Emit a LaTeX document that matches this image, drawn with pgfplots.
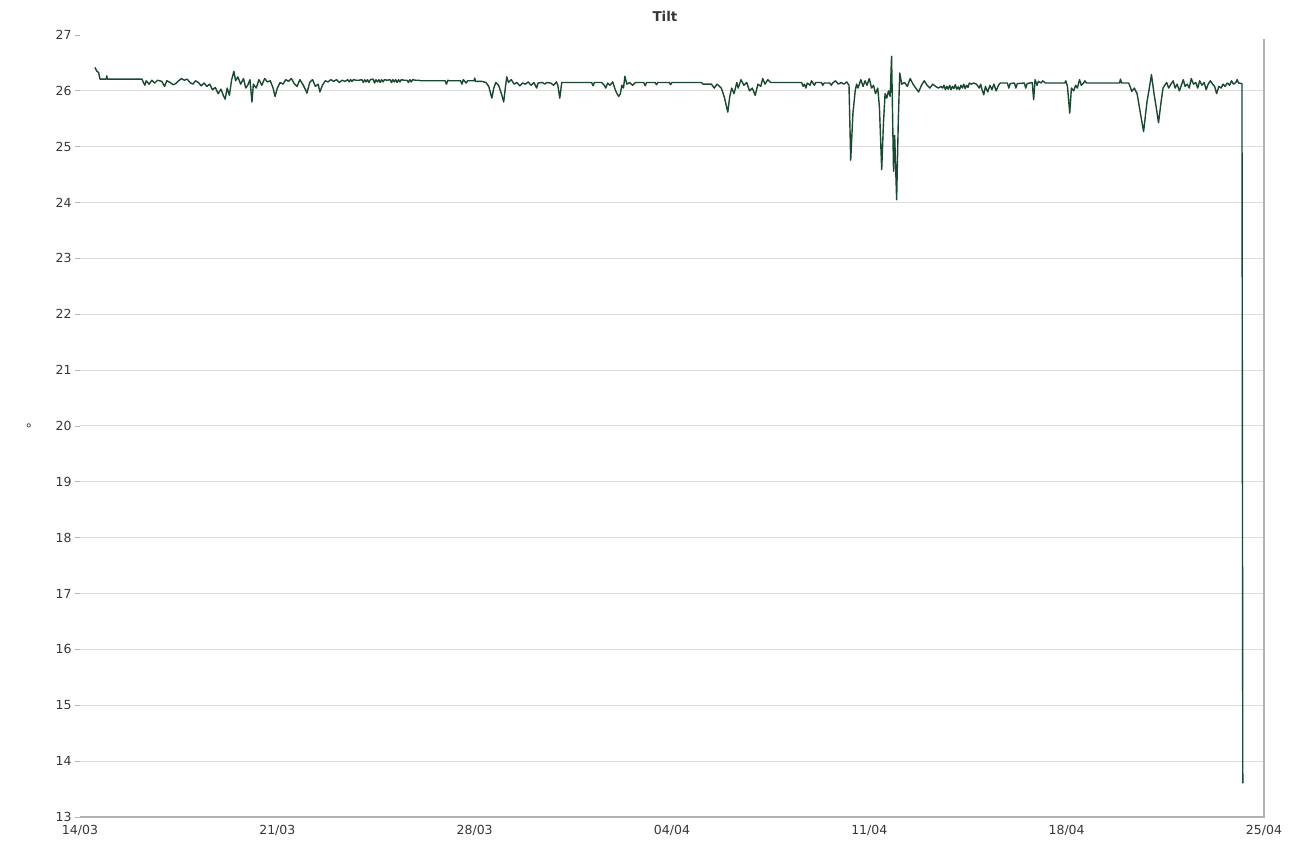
\documentclass[border=0pt]{standalone}
\usepackage{pgfplots}
\pgfplotsset{compat=1.18}
\usepackage{pgfplotstable}
\usepackage{fontspec}
\setmainfont{DejaVu Sans}
\definecolor{linegreen}{RGB}{26,72,48}
\definecolor{gridgray}{RGB}{220,220,220}
\definecolor{shadowgray}{RGB}{178,178,178}
\definecolor{labelgray}{RGB}{55,55,55}

\pgfplotstableread{
x y
0.53 26.42
0.60 26.35
0.66 26.33
0.71 26.21
0.93 26.21
0.95 26.27
0.97 26.21
2.20 26.21
2.25 26.15
2.30 26.10
2.35 26.18
2.45 26.12
2.55 26.19
2.65 26.14
2.75 26.19
2.90 26.17
3.00 26.08
3.08 26.18
3.20 26.15
3.30 26.11
3.40 26.13
3.50 26.18
3.60 26.22
3.70 26.19
3.80 26.21
3.90 26.15
4.00 26.12
4.10 26.18
4.20 26.15
4.30 26.09
4.40 26.14
4.50 26.08
4.60 26.12
4.70 26.02
4.80 26.06
4.90 25.95
5.00 26.03
5.10 25.90
5.15 25.85
5.22 26.05
5.30 25.92
5.38 26.20
5.46 26.35
5.52 26.18
5.60 26.25
5.70 26.12
5.80 26.22
5.88 26.05
5.95 26.10
6.03 26.20
6.10 25.80
6.15 26.12
6.25 26.05
6.35 26.20
6.45 26.10
6.55 26.22
6.65 26.16
6.75 26.18
6.85 26.05
6.92 25.90
7.00 26.05
7.10 26.15
7.20 26.12
7.30 26.20
7.40 26.17
7.50 26.22
7.60 26.13
7.70 26.08
7.80 26.20
7.90 26.12
8.00 26.02
8.05 25.96
8.15 26.15
8.25 26.20
8.35 26.08
8.45 26.12
8.51 25.98
8.60 26.10
8.70 26.18
8.80 26.16
8.90 26.20
9.00 26.17
9.10 26.20
9.20 26.15
9.30 26.19
9.40 26.17
9.50 26.20
9.55 26.16
9.60 26.20
9.65 26.17
9.70 26.20
9.80 26.19
9.90 26.19
10.00 26.20
10.05 26.15
10.10 26.20
10.15 26.16
10.20 26.20
10.25 26.15
10.30 26.20
10.40 26.21
10.45 26.14
10.50 26.20
10.55 26.16
10.60 26.20
10.65 26.15
10.70 26.20
10.75 26.16
10.80 26.20
10.90 26.19
11.00 26.20
11.05 26.15
11.10 26.20
11.15 26.16
11.20 26.20
11.25 26.15
11.30 26.20
11.35 26.16
11.40 26.20
11.50 26.19
11.60 26.19
11.65 26.15
11.70 26.20
11.75 26.16
11.80 26.20
11.90 26.19
12.00 26.19
12.10 26.18
12.95 26.18
13.00 26.12
13.05 26.19
13.10 26.18
13.50 26.18
13.55 26.12
13.60 26.20
13.70 26.14
13.75 26.18
13.98 26.18
14.00 26.23
14.03 26.17
14.25 26.17
14.40 26.15
14.50 26.08
14.61 25.87
14.68 26.05
14.75 26.15
14.85 26.10
14.95 25.95
15.03 25.80
15.10 26.10
15.14 26.25
15.20 26.15
15.30 26.20
15.40 26.12
15.50 26.15
15.60 26.09
15.70 26.14
15.80 26.12
15.90 26.16
16.00 26.10
16.10 26.15
16.20 26.05
16.25 26.14
16.40 26.15
16.50 26.12
16.55 26.15
16.70 26.14
16.80 26.10
16.90 26.16
16.95 26.10
17.02 25.87
17.09 26.15
18.15 26.15
18.20 26.09
18.25 26.15
18.50 26.15
18.60 26.10
18.65 26.05
18.72 26.14
18.80 26.10
18.90 26.16
19.00 26.00
19.05 25.95
19.11 25.90
19.17 25.95
19.22 26.10
19.28 26.05
19.33 26.26
19.40 26.12
19.50 26.15
19.60 26.10
19.70 26.15
20.00 26.15
20.05 26.09
20.10 26.15
20.40 26.15
20.45 26.11
20.50 26.15
20.90 26.15
20.95 26.11
21.00 26.15
21.35 26.15
22.05 26.15
22.10 26.12
22.40 26.12
22.50 26.05
22.60 26.12
22.75 26.05
22.85 25.90
22.98 25.62
23.05 25.90
23.12 26.05
23.20 25.95
23.30 26.15
23.35 26.05
23.45 26.20
23.55 26.10
23.65 26.15
23.75 26.00
23.85 26.05
23.95 25.92
24.05 26.12
24.15 26.08
24.22 26.22
24.30 26.12
24.40 26.20
24.50 26.15
25.60 26.15
25.65 26.08
25.70 26.12
25.75 26.05
25.80 26.14
25.90 26.10
25.95 26.18
26.05 26.10
26.10 26.15
26.30 26.15
26.35 26.10
26.40 26.14
26.60 26.14
26.65 26.10
26.70 26.14
26.80 26.18
26.90 26.12
27.00 26.15
27.10 26.12
27.20 26.16
27.28 26.10
27.34 24.76
27.42 25.60
27.50 26.00
27.55 26.12
27.60 26.05
27.70 26.20
27.78 26.08
27.85 26.18
27.92 26.10
28.00 26.22
28.08 26.05
28.15 26.10
28.22 25.95
28.30 26.05
28.36 25.70
28.44 24.59
28.50 25.40
28.56 25.95
28.62 25.87
28.68 26.00
28.74 25.90
28.79 26.62
28.86 24.56
28.90 25.20
28.97 24.05
29.03 25.50
29.08 26.32
29.15 26.12
29.25 26.15
29.35 26.08
29.45 26.22
29.55 26.12
29.65 26.05
29.75 25.98
29.85 26.10
29.95 26.18
30.05 26.10
30.15 26.05
30.25 26.12
30.35 26.08
30.45 26.05
30.55 26.08
30.60 26.05
30.65 26.10
30.70 26.02
30.75 26.08
30.80 26.03
30.85 26.10
30.90 26.02
30.95 26.08
31.00 26.04
31.05 26.11
31.10 26.03
31.15 26.07
31.20 26.02
31.25 26.10
31.30 26.05
31.35 26.12
31.40 26.04
31.45 26.10
31.50 26.06
31.55 26.14
31.62 26.12
31.70 26.14
31.80 26.12
31.90 26.05
31.95 26.12
32.00 26.02
32.06 25.93
32.12 26.08
32.20 25.98
32.28 26.10
32.35 26.02
32.42 26.12
32.50 26.00
32.58 26.10
32.65 26.14
32.90 26.14
32.95 26.05
33.00 26.13
33.15 26.14
33.20 26.05
33.25 26.13
33.50 26.14
33.55 26.05
33.60 26.13
33.78 26.15
33.83 25.84
33.88 26.20
33.95 26.10
34.00 26.17
34.10 26.14
34.15 26.18
34.25 26.14
34.93 26.14
34.97 26.18
35.03 26.08
35.11 25.60
35.17 26.05
35.25 26.00
35.32 26.10
35.38 26.05
35.46 26.20
35.52 26.10
35.60 26.14
35.65 26.18
35.70 26.14
36.88 26.14
36.91 26.21
36.95 26.14
37.20 26.14
37.25 26.08
37.31 25.99
37.40 26.05
37.50 25.95
37.60 25.65
37.73 25.27
37.85 25.80
37.95 26.10
38.01 26.29
38.10 25.95
38.18 25.70
38.26 25.43
38.35 25.80
38.42 26.05
38.48 26.10
38.55 26.15
38.62 26.05
38.70 26.12
38.78 26.18
38.85 26.05
38.92 26.12
39.00 26.00
39.07 26.10
39.14 26.20
39.20 26.08
39.28 26.12
39.35 26.05
39.42 26.22
39.50 26.12
39.58 26.15
39.65 26.05
39.72 26.18
39.80 26.10
39.88 26.15
39.95 26.02
40.02 26.12
40.10 26.18
40.18 26.12
40.25 26.08
40.32 25.95
40.40 26.08
40.48 26.05
40.55 26.12
40.62 26.08
40.70 26.14
40.78 26.10
40.85 26.18
40.92 26.12
41.00 26.15
41.05 26.20
41.10 26.14
41.22 26.13
41.25 13.60
}\tiltdata

\begin{document}
\begin{tikzpicture}
\useasboundingbox (-80pt,-24pt) rectangle (1216pt,817pt);
\begin{axis}[
  at={(0pt,0pt)}, anchor=south west,
  scale only axis,
  width=1184pt, height=782pt,
  xmin=0, xmax=42, ymin=13, ymax=27,
  axis line style={draw=none},
  xtick={0,7,14,21,28,35,42},
  xticklabels={14/03,21/03,28/03,04/04,11/04,18/04,25/04},
  ytick={13,14,...,27},
  extra y ticks={14,15,...,26},
  extra y tick labels={},
  extra y tick style={grid=major, major tick length=0pt},
  grid style={gridgray, line width=1pt},
  xtick style={draw=none},
  ytick style={draw=shadowgray, line width=0.8pt},
  tick align=outside,
  major tick length=5pt,
  ytick pos=left,
  xtick pos=bottom,
  /pgf/number format/assume math mode=true,
  tick label style={font=\fontsize{12.5}{14}\selectfont, text=labelgray},
  xticklabel style={yshift=0pt},
  title={\textbf{Tilt}},
  title style={font=\fontsize{13.5}{15}\selectfont, text=labelgray, yshift=4pt, xshift=-7pt},
  ylabel={°},
  ylabel style={rotate=-90, font=\fontsize{13}{14}\selectfont, text=labelgray, at={(rel axis cs:0,0.5)}, anchor=center, xshift=-51pt, yshift=-3pt},
  clip=false,
]
\addplot[linegreen, line width=1.4pt, mark=none, line join=round] table[x=x, y=y] {\tiltdata};
\draw[shadowgray, line width=2.5pt] (rel axis cs:0,0) -- (rel axis cs:1,0) -- (rel axis cs:1,0.995);
\end{axis}
\end{tikzpicture}
\end{document}
